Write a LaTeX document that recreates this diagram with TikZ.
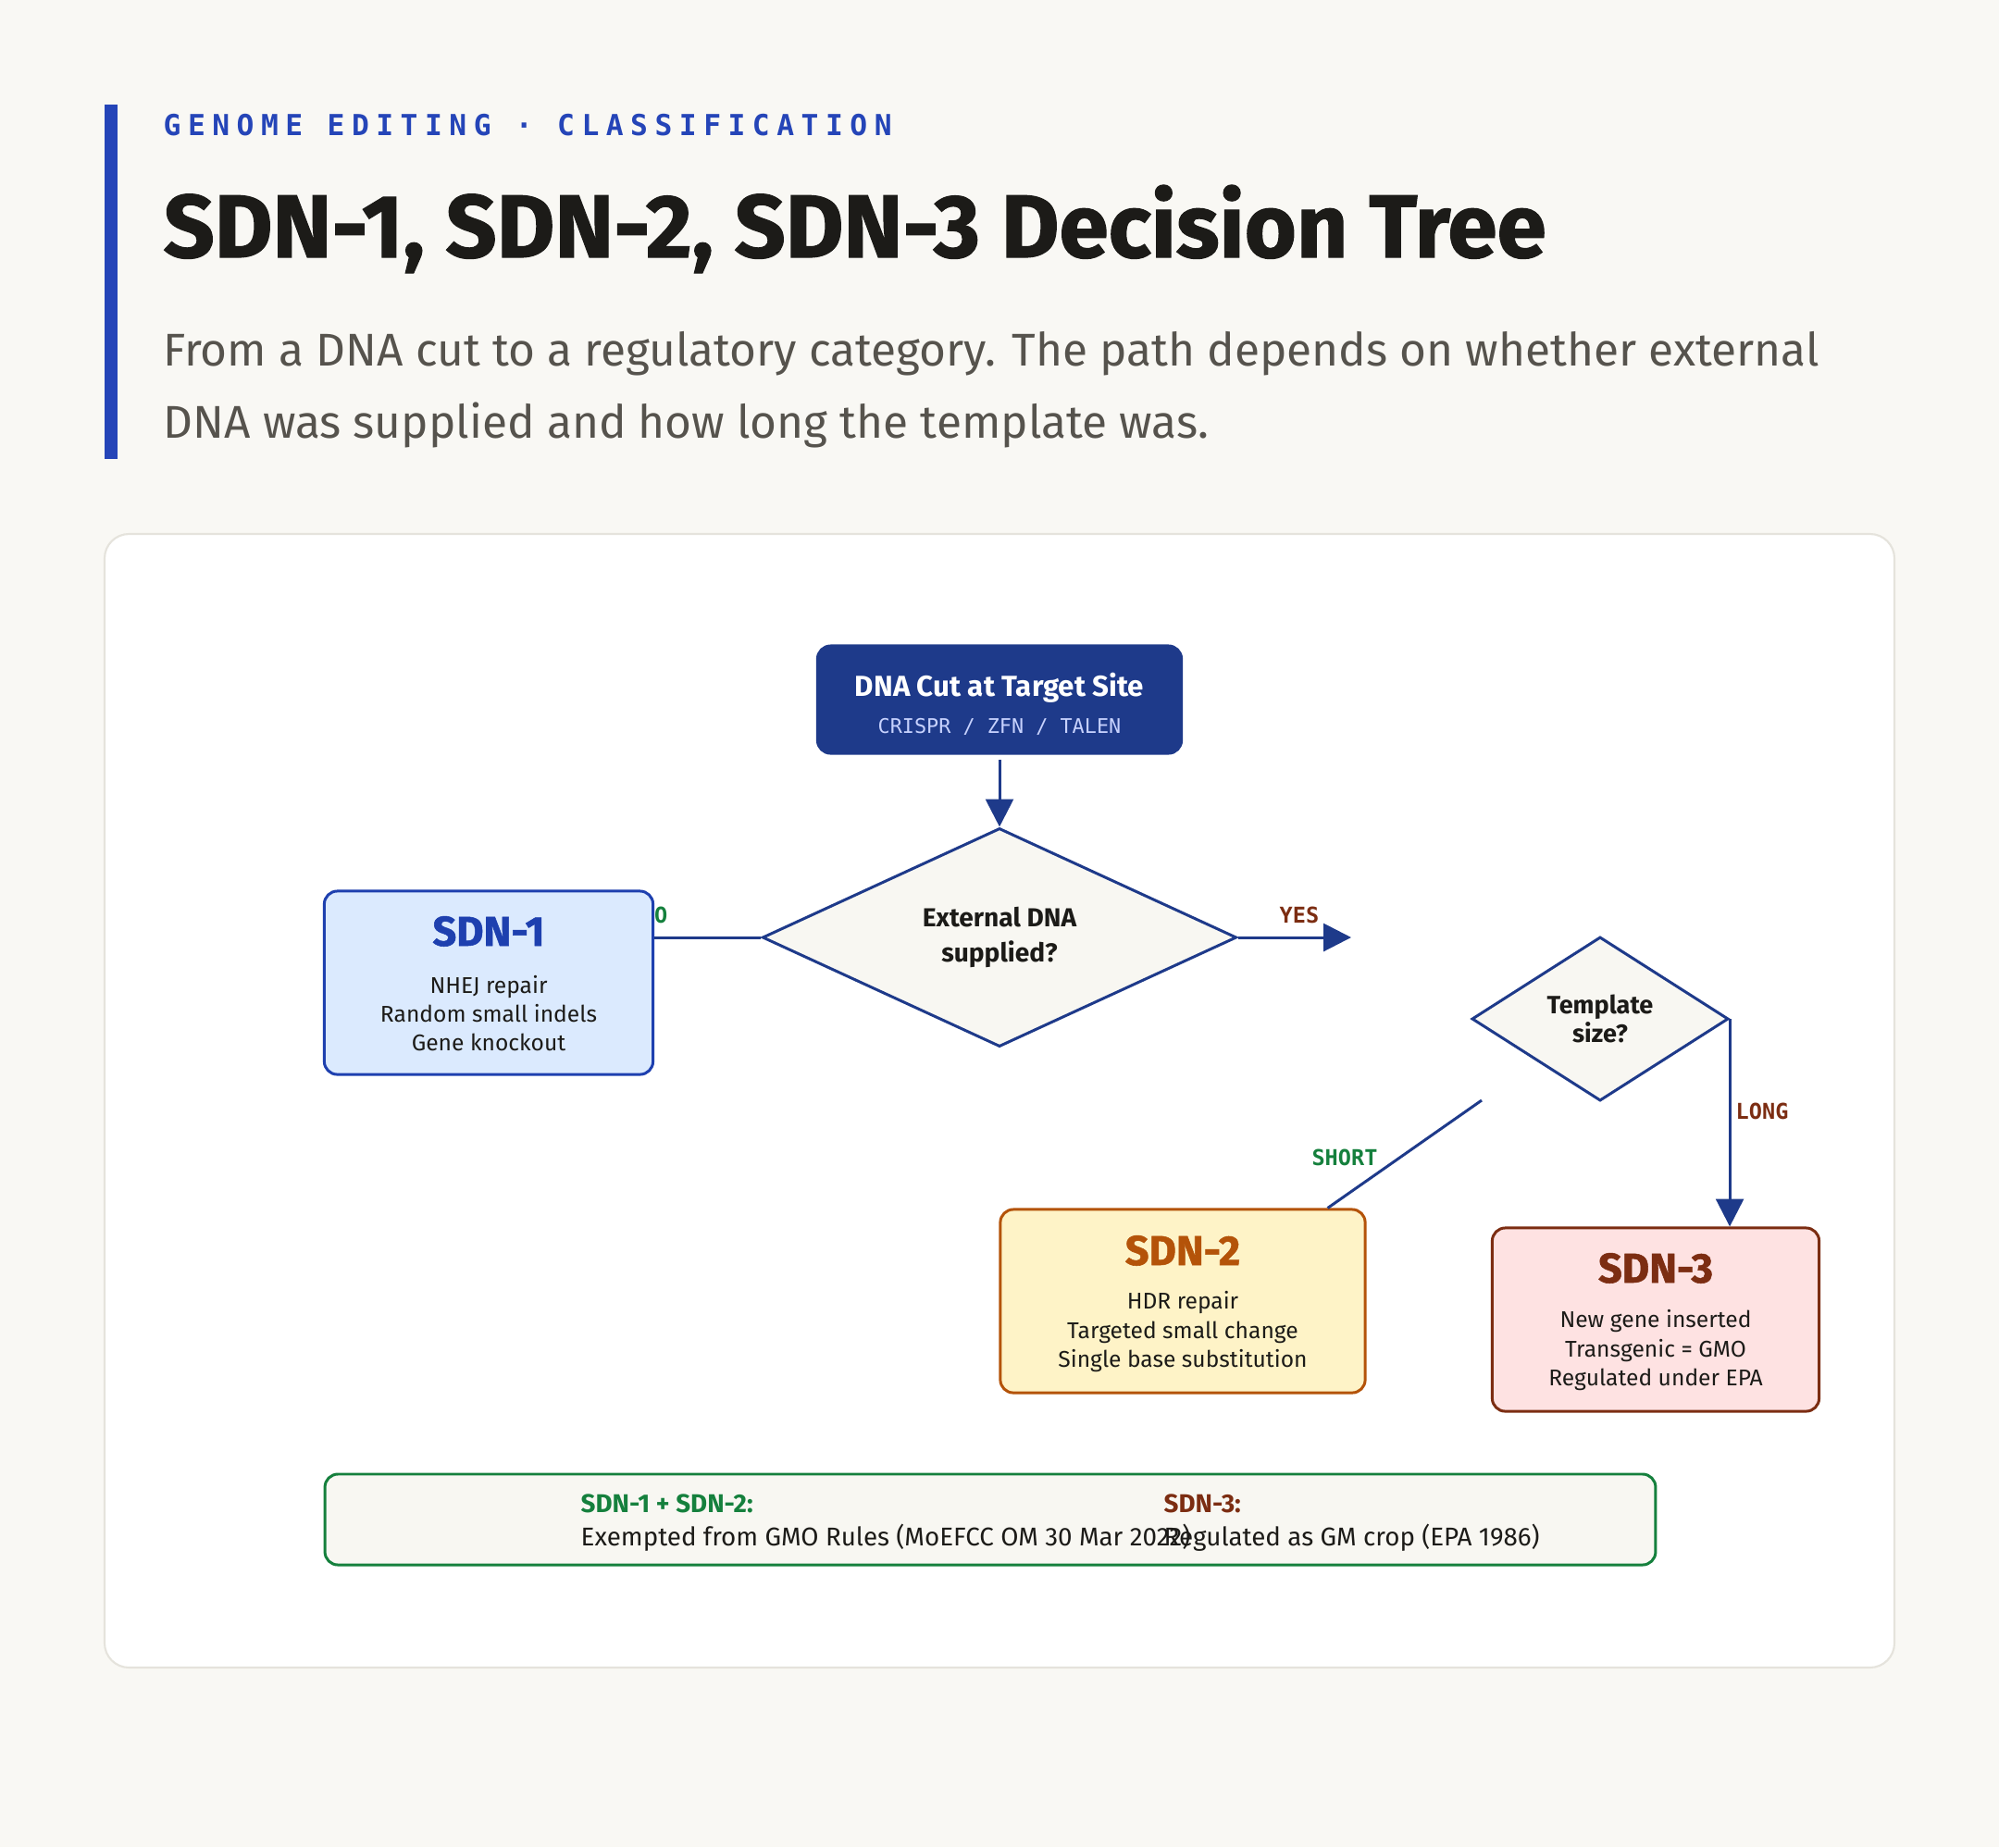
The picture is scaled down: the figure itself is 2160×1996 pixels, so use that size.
\documentclass[tikz,border=0pt]{standalone}
\usepackage{fontspec}
\setmainfont{Fira Sans}
\newfontfamily\heavyfont{Fira Sans}[BoldFeatures={FakeBold=1.2}]
\newfontfamily\codefont{DejaVu Sans Mono}
\newfontfamily\kickfont[LetterSpace=24]{DejaVu Sans Mono}
\usetikzlibrary{shapes.geometric,arrows.meta}

\definecolor{paper}{HTML}{F9F8F4}
\definecolor{cardline}{HTML}{E5E3DC}
\definecolor{accent}{HTML}{2545B8}
\definecolor{navy}{HTML}{1E3A8A}
\definecolor{ink}{HTML}{1C1B18}
\definecolor{subink}{HTML}{56534D}
\definecolor{qfill}{HTML}{F8F7F2}
\definecolor{sdnblue}{HTML}{1E40AF}
\definecolor{bluefill}{HTML}{DBEAFE}
\definecolor{sdnorange}{HTML}{B45309}
\definecolor{orangefill}{HTML}{FEF3C7}
\definecolor{sdnred}{HTML}{7C2D12}
\definecolor{redfill}{HTML}{FEE2E2}
\definecolor{okgreen}{HTML}{15803D}
\definecolor{cutsub}{HTML}{C7D2FE}

\tikzset{
  link/.style={draw=navy, line width=0.85pt},
  tip/.style={-{Triangle[length=8.5pt,width=8.5pt]}},
  sdnbox/.style={draw, rounded corners=4pt, line width=0.85pt, inner sep=0pt},
  question/.style={diamond, draw=navy, fill=qfill, line width=0.85pt, inner sep=0pt,
    align=center, text=ink},
  boxhead/.style={anchor=base, inner sep=0pt, font=\heavyfont\fontsize{12.8}{13}\selectfont\bfseries},
  boxbody/.style={inner sep=0pt, align=center, text=ink, font=\fontsize{7}{8.9}\selectfont},
  branch/.style={inner sep=0pt, font=\codefont\bfseries\fontsize{6.7}{7}\selectfont},
  legendtext/.style={anchor=base west, inner sep=0pt, font=\fontsize{7.9}{8}\selectfont},
}

\begin{document}
\begin{tikzpicture}[x=0.01cm, y=-0.01cm]
  % page and heading
  \fill[paper] (0,0) rectangle (2160,1996);
  \fill[accent] (113,113) rectangle (127,496);
  \node[anchor=base west, inner sep=0pt, text=accent,
    font=\kickfont\bfseries\fontsize{8.9}{9}\selectfont] (kicker) at (176,146)
    {GENOME EDITING · CLASSIFICATION};
  \node[anchor=base west, inner sep=0pt, text=ink,
    font=\heavyfont\fontsize{27.4}{30}\selectfont\bfseries] (title) at (176,278)
    {SDN-1, SDN-2, SDN-3 Decision Tree};
  \node[anchor=base west, inner sep=0pt, text=subink, font=\fontsize{14.1}{22}\selectfont]
    (sub1) at (176,395)
    {From a DNA cut to a regulatory category. The path depends on whether external};
  \node[anchor=base west, inner sep=0pt, text=subink, font=\fontsize{14.1}{22}\selectfont]
    (sub2) at (176,473) {DNA was supplied and how long the template was.};

  % card
  \draw[cardline, fill=white, line width=0.6pt, rounded corners=7.5pt]
    (113,577) rectangle (2047,1802);

  % the SDN-1 box hides the N
  \node[branch, text=okgreen, anchor=base east] (nolbl) at (722,997) {NO};

  \node[sdnbox, draw=navy, fill=navy, minimum width=3.93cm, minimum height=1.16cm]
    (cut) at (1080,756) {};
  \node[anchor=base, inner sep=0pt, text=white, font=\fontsize{8.9}{9}\selectfont\bfseries]
    (cut-t) at (1080,752) {DNA Cut at Target Site};
  \node[anchor=base, inner sep=0pt, text=cutsub, font=\codefont\fontsize{6.2}{7}\selectfont]
    (cut-s) at (1080,792) {CRISPR / ZFN / TALEN};

  \node[question, minimum width=5.12cm, minimum height=2.36cm, aspect=2.2,
    font=\fontsize{8}{10.8}\selectfont\bfseries] (q1) at (1080,1013)
    {External DNA\\ supplied?};
  \node[question, minimum width=2.77cm, minimum height=1.77cm, aspect=1.56,
    font=\fontsize{7.7}{9}\selectfont\bfseries] (q2) at (1729,1101)
    {Template\\ size?};

  \node[sdnbox, draw=sdnblue, fill=bluefill, minimum width=3.55cm, minimum height=1.98cm]
    (sdn1) at (528,1062) {};
  \node[boxhead, text=sdnblue] (sdn1-t) at (528,1022) {SDN-1};
  \node[boxbody] (sdn1-b) at (528,1095) {NHEJ repair\\ Random small indels\\ Gene knockout};

  \node[sdnbox, draw=sdnorange, fill=orangefill, minimum width=3.94cm, minimum height=1.98cm]
    (sdn2) at (1278,1406) {};
  \node[boxhead, text=sdnorange] (sdn2-t) at (1278,1367) {SDN-2};
  \node[boxbody] (sdn2-b) at (1278,1439)
    {HDR repair\\ Targeted small change\\ Single base substitution};

  \node[sdnbox, draw=sdnred, fill=redfill, minimum width=3.53cm, minimum height=1.98cm]
    (sdn3) at (1789,1426) {};
  \node[boxhead, text=sdnred] (sdn3-t) at (1789,1386) {SDN-3};
  \node[boxbody] (sdn3-b) at (1789,1459)
    {New gene inserted\\ Transgenic = GMO\\ Regulated under EPA};

  % connectors
  \coordinate (yesend) at (1460,1013);
  \coordinate (shortstart) at (1601,1189);
  \draw[link, tip, shorten <=1.5pt] (cut.south) -- (q1.north);
  \draw[link] (q1.west) -- (q1.west -| sdn1.east);
  \draw[link, tip] (q1.east) -- (yesend);
  \draw[link, tip] (q2.east) -- (q2.east |- sdn3.north);
  \draw[link] (shortstart) -- ([xshift=-0.42cm]sdn2.north east);

  \node[branch, text=sdnred, anchor=base] (yeslbl) at (1404,997) {YES};
  \node[branch, text=sdnred, anchor=base west] (longlbl) at (1875,1209) {LONG};
  \node[branch, text=okgreen, anchor=base] (shortlbl) at (1453,1259) {SHORT};

  % legend
  \node[sdnbox, draw=okgreen, fill=qfill, minimum width=14.37cm, minimum height=0.98cm]
    (legend) at (1070,1642) {};
  \node[legendtext, text=okgreen, font=\fontsize{7.9}{8}\selectfont\bfseries] (leg-a)
    at (627,1634) {SDN-1 + SDN-2:};
  \node[legendtext, text=ink] (leg-ab) at (627,1670)
    {Exempted from GMO Rules (MoEFCC OM 30 Mar 2022)};
  \node[legendtext, text=sdnred, font=\fontsize{7.9}{8}\selectfont\bfseries] (leg-c)
    at (1257,1634) {SDN-3:};
  \node[legendtext, text=ink] (leg-cb) at (1257,1670) {Regulated as GM crop (EPA 1986)};
\end{tikzpicture}
\end{document}
